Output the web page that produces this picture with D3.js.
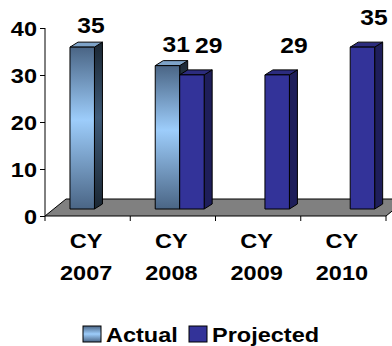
<!DOCTYPE html>
<html><head><meta charset="utf-8">
<script src="https://cdn.jsdelivr.net/npm/d3@7"></script>
<style>html,body{margin:0;padding:0;background:#fff;}svg{display:block;}</style>
</head><body>
<script>
const categories = ["CY 2007", "CY 2008", "CY 2009", "CY 2010"];
const seriesNames = ["Actual", "Projected"];
const actual = [35, 31, null, null];
const projected = [null, 29, 29, 35];
const yTicks = [0, 10, 20, 30, 40];

const W = 392, H = 346;
const SX = 1.12; // horizontal stretch of the reference's lettering
const svg = d3.select("body").append("svg").attr("width", W).attr("height", H)
  .style("font-family", "'Liberation Sans', Arial, sans-serif").style("font-weight", "bold");

function sText(parent, ax, ay, str, size, anchor) {
  return parent.append("text")
    .attr("transform", `translate(${ax},${ay}) scale(${SX},1)`)
    .attr("text-anchor", anchor || "start").attr("font-size", size).attr("fill", "#000").text(str);
}

const defs = svg.append("defs");
const g1 = defs.append("linearGradient").attr("id", "actFront").attr("x1", 0).attr("y1", 0).attr("x2", 0).attr("y2", 1);
[[0, "#4a6585"], [0.45, "#9dcdfb"], [1, "#4a6585"]].forEach(s => g1.append("stop").attr("offset", s[0]).attr("stop-color", s[1]));
const g2 = defs.append("linearGradient").attr("id", "actSide").attr("x1", 0).attr("y1", 0).attr("x2", 0).attr("y2", 1);
[[0, "#1b2733"], [0.45, "#3e5a78"], [1, "#1b2733"]].forEach(s => g2.append("stop").attr("offset", s[0]).attr("stop-color", s[1]));
const g3 = defs.append("linearGradient").attr("id", "actLeg").attr("x1", 0).attr("y1", 0).attr("x2", 0).attr("y2", 1);
[[0, "#4a6585"], [0.5, "#9dcdfb"], [1, "#4a6585"]].forEach(s => g3.append("stop").attr("offset", s[0]).attr("stop-color", s[1]));

const axisX = 45, axisBottom = 216, axisTop = 28;
const x = d3.scaleBand().domain(categories).range([axisX, 386]).padding(0);
const bw = x.bandwidth();
const x1 = d3.scaleBand().domain(seriesNames).range([0.293 * bw, 0.867 * bw]);
const yAxis = d3.scaleLinear().domain([0, 40]).range([axisBottom, axisTop]);
const yBar = d3.scaleLinear().domain([0, 40]).range([209, 24]);

const floorDx = 21, floorDy = -17;
svg.append("path")
  .attr("d", `M${axisX},${axisBottom} L${axisX + floorDx},${axisBottom + floorDy} L${386 + floorDx},${axisBottom + floorDy} L386,${axisBottom} Z`)
  .attr("fill", "#808080").attr("stroke", "#000").attr("stroke-width", 1);

// y axis
const ya = d3.axisLeft(yAxis).tickValues(yTicks).tickSize(5).tickFormat("");
const yg = svg.append("g").attr("transform", `translate(${axisX},0)`).call(ya);
yg.select(".domain").attr("stroke", "#000").attr("d", `M0,${axisTop}V${axisBottom}`);
yTicks.forEach(t => sText(svg, 37, yAxis(t) + 7.5, t, 21, "end"));

// x axis ticks
const xTickPos = [axisX].concat(categories.map(c => x(c) + bw));
svg.append("g").selectAll("line").data(xTickPos).join("line")
  .attr("x1", d => d).attr("x2", d => d).attr("y1", axisBottom).attr("y2", axisBottom + 5).attr("stroke", "#000");

// category labels
categories.forEach(c => {
  const cx = x(c) + bw / 2 - 1.5;
  const parts = c.split(" ");
  sText(svg, cx, 248, parts[0], 21, "middle");
  sText(svg, cx, 280, parts[1], 21, "middle");
});

// bars
const dx = 8, dy = -5;
const styles = {
  Actual: { front: "url(#actFront)", side: "url(#actSide)", top: "#7ea3c8", labelOff: 14, labelDx: 21 },
  Projected: { front: "#333399", side: "#1e1e5a", top: "#2c2c7e", labelOff: 22, labelDx: 29 }
};
const bars = [];
categories.forEach((c, i) => {
  [["Actual", actual[i]], ["Projected", projected[i]]].forEach(([s, v]) => {
    if (v != null) bars.push({ c, s, v });
  });
});
const bg = svg.append("g");
bars.forEach(b => {
  const x0 = x(b.c) + x1(b.s), w = x1.bandwidth();
  const top = yBar(b.v), bot = yBar(0);
  const st = styles[b.s];
  const g = bg.append("g").attr("stroke", "#000").attr("stroke-width", 1).attr("stroke-linejoin", "round");
  g.append("path").attr("d", `M${x0 + w},${top} L${x0 + w + dx},${top + dy} L${x0 + w + dx},${bot + dy} L${x0 + w},${bot} Z`).attr("fill", st.side);
  g.append("path").attr("d", `M${x0},${top} L${x0 + dx},${top + dy} L${x0 + w + dx},${top + dy} L${x0 + w},${top} Z`).attr("fill", st.top);
  g.append("rect").attr("x", x0).attr("y", top).attr("width", w).attr("height", bot - top).attr("fill", st.front);
});
// data labels (kept inside the picture)
bars.forEach(b => {
  const lx = Math.min(x(b.c) + x1(b.s) + styles[b.s].labelDx, W - 18);
  sText(svg, lx, yBar(b.v) - styles[b.s].labelOff, b.v, 22, "middle");
});

// legend
const legX = [83, 189];
seriesNames.forEach((s, i) => {
  svg.append("rect").attr("x", legX[i]).attr("y", 326).attr("width", 18).attr("height", 16)
    .attr("fill", s === "Actual" ? "url(#actLeg)" : "#333399").attr("stroke", "#000").attr("stroke-width", 1);
  sText(svg, legX[i] + 23, 342, s, 21, "start");
});
</script>
</body></html>
